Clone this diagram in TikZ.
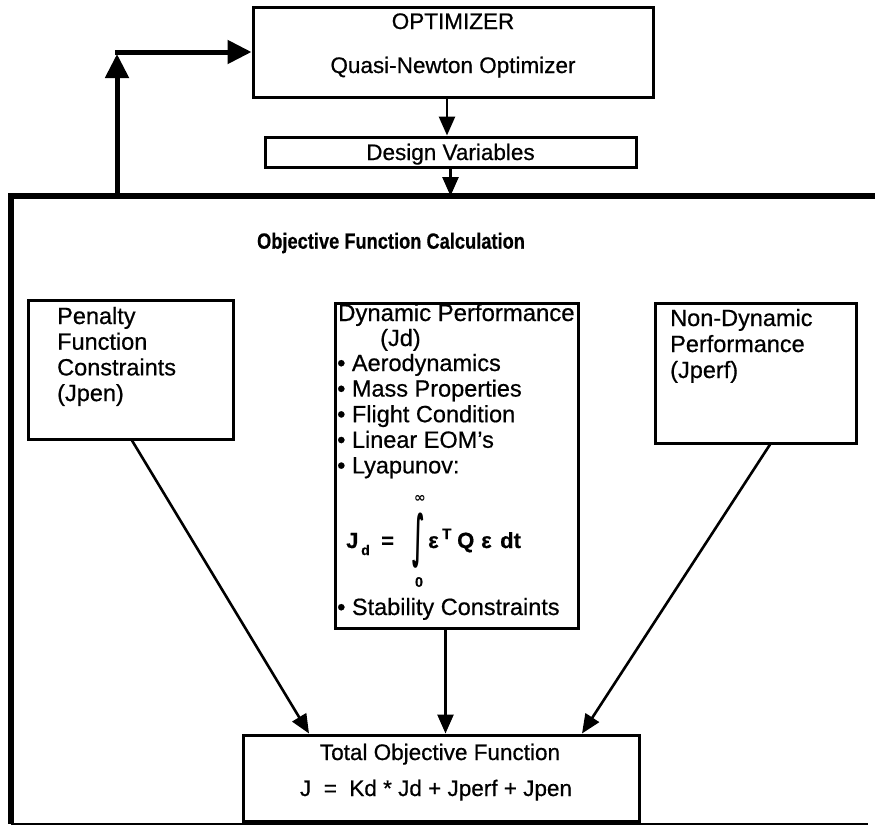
\documentclass[tikz,border=0pt]{standalone}
\usepackage{fontspec}
\usepackage{graphicx}
\setmainfont{Liberation Sans}[FakeBold=0.6]
\newfontfamily\symfont{DejaVu Sans}
\usetikzlibrary{arrows.meta}
\begin{document}
\begin{tikzpicture}[x=1pt,y=-1pt,
  box/.style={draw, line width=3pt, inner sep=0pt},
  txt/.style={inner sep=0pt, anchor=base west, font=\fontsize{23.5}{26}\selectfont},
  ctxt/.style={inner sep=0pt, anchor=base, font=\fontsize{22.5}{26}\selectfont},
  eqf/.style={inner sep=0pt, anchor=base west, font=\bfseries\fontsize{22}{24}\selectfont},
  arr/.style={line width=2.6pt, -{Triangle[length=19pt,width=16pt]}},
  fb/.style={line width=5pt, -{Triangle[length=24pt,width=23pt]}},
]
\fill[white] (0,0) rectangle (875,827);
\useasboundingbox (0,0) rectangle (875,827);

% top boxes
\node[box, minimum width=400pt, minimum height=90pt] (opt) at (453,52) {};
\node[ctxt] (optT) at (453,29) {OPTIMIZER};
\node[ctxt] (optQ) at (453,73) {Quasi-Newton Optimizer};

\node[box, minimum width=371pt, minimum height=30pt] (dv) at (450.5,152) {};
\node[ctxt] (dvT) at (450.5,160) {Design Variables};

% frame
\coordinate (ftopR) at (875,196);
\coordinate (ftopL) at (11,196);
\coordinate (fbotL) at (11,824);
\coordinate (fbotR) at (868,824);
\draw[line width=5.5pt] (ftopR) -- (ftopL) -- (fbotL);
\draw[line width=2pt] (fbotL) -- (fbotR);

% feedback
\coordinate (fbS) at (117,196);
\coordinate (fbC) at (117,54);
\coordinate (fbH) at (115,52);
\draw[fb] (fbS) -- (fbC);
\draw[fb] (fbH) -- (opt.west);

\draw[arr] ([xshift=-6pt]opt.south) -- ([xshift=-6pt]opt.south |- dv.north);
\draw[arr] (dv.south) -- (dv.south |- ftopL);

\node[inner sep=0pt, font=\bfseries\fontsize{22}{23}\selectfont] (title) at (391,243) {\scalebox{0.83}[1]{Objective Function Calculation}};

% penalty box
\node[box, minimum width=205pt, minimum height=139pt] (pen) at (130.5,369.5) {};
\foreach \t [count=\i] in {Penalty, Function, Constraints, (Jpen)}
  \node[txt] (pen\i) at (57,{324+25.7*(\i-1)}) {\t};

% non-dynamic box
\node[box, minimum width=201pt, minimum height=140pt] (non) at (755.5,373) {};
\foreach \t [count=\i] in {Non-Dynamic, Performance, (Jperf)}
  \node[txt] (non\i) at (670,{326+26*(\i-1)}) {\t};

% dynamic box
\node[box, minimum width=243pt, minimum height=325pt] (dyn) at (456.5,465.5) {};
\node[txt, font=\fontsize{23.9}{26}\selectfont] (dyn1) at (338,321) {Dynamic Performance};
\node[txt] (dyn2) at (380,346) {(Jd)};
\foreach \t [count=\i] in {Aerodynamics, Mass Properties, Flight Condition, Linear EOM's, Lyapunov:}
  \node[txt] (dynb\i) at (337,{371+25.6*(\i-1)}) {• \t};
\node[txt] (dyn8) at (337,615) {• Stability Constraints};

% equation
\node[eqf] (eqJ) at (346,548) {J};
\node[eqf, font=\bfseries\fontsize{14}{15}\selectfont] (eqd) at (361,555) {d};
\node[eqf] (eqeq) at (381,548) {=};
\node[inner sep=0pt, font=\symfont\bfseries\fontsize{24}{26}\selectfont] (eqInt) at (419,541) {\scalebox{0.85}[2.35]{∫}};
\node[inner sep=0pt, font=\symfont\bfseries\fontsize{14}{15}\selectfont] (eqInf) at (420,499) {∞};
\node[inner sep=0pt, font=\bfseries\fontsize{14}{15}\selectfont] (eqZero) at (419,582) {0};
\node[eqf] (eqE1) at (428,548) {ε};
\node[eqf, font=\bfseries\fontsize{15}{16}\selectfont] (eqT) at (442,539) {T};
\node[eqf] (eqQ) at (457,548) {Q};
\node[eqf] (eqE2) at (481,548) {ε};
\node[eqf] (eqdt) at (500,548) {dt};

% total
\node[box, minimum width=396pt, minimum height=86pt] (tot) at (441,778) {};
\node[ctxt] (tot1) at (440,760) {Total Objective Function};
\node[ctxt] (tot2) at (436,796) {J \ = \ Kd * Jd + Jperf + Jpen};

% arrows to total
\draw[arr] ([xshift=1.5pt]pen.south) -- ([xshift=-132pt]tot.north);
\draw[arr] ([xshift=-11pt]dyn.south) -- ([xshift=-11pt]dyn.south |- tot.north);
\draw[arr] ([xshift=14.5pt]non.south) -- ([xshift=141pt]tot.north);
\end{tikzpicture}
\end{document}
